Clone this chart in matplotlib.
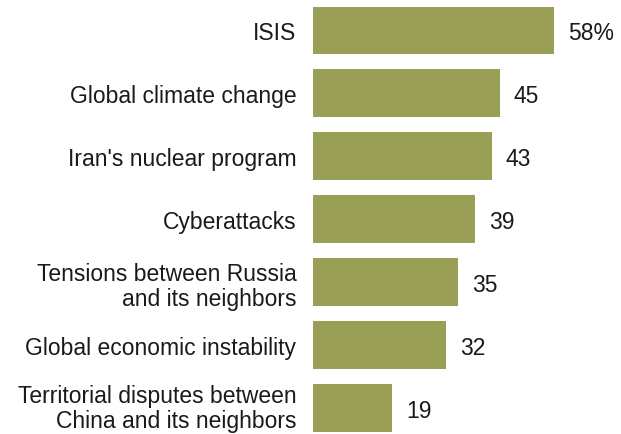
import matplotlib.pyplot as plt
import matplotlib.transforms as mtransforms

categories = [
    "ISIS",
    "Global climate change",
    "Iran's nuclear program",
    "Cyberattacks",
    "Tensions between Russia\nand its neighbors",
    "Global economic instability",
    "Territorial disputes between\nChina and its neighbors",
]
values = [58, 45, 43, 39, 35, 32, 19]
value_labels = ["58%", "45", "43", "39", "35", "32", "19"]

BAR_COLOR = "#999f54"
plt.rcParams["font.family"] = ["Liberation Sans", "DejaVu Sans"]

fig = plt.figure(figsize=(6.21, 4.35), dpi=100)
ax = fig.add_axes([313 / 621, -5.6 / 435, 299 / 621, 440.6 / 435])

ypos = list(range(len(categories)))
ax.barh(ypos, values, height=0.76, color=BAR_COLOR)

for y, v, lab in zip(ypos, values, value_labels):
    ax.annotate(lab, xy=(v, y), xytext=(10, -1.5), textcoords="offset points",
                ha="left", va="center", fontsize=16.5, color="#1a1a1a")

ax.set_xlim(0, 72)
ax.set_ylim(6.5, -0.5)
ax.set_yticks(ypos)
ax.set_yticklabels(categories, fontsize=16.5, color="#1a1a1a", ha="right",
                   linespacing=1.12)
ax.tick_params(axis="y", length=0, pad=12)
ax.set_xticks([])
for s in ax.spines.values():
    s.set_visible(False)

# lift the bottom label a few pixels so its descenders stay inside the figure
last = ax.get_yticklabels()[-1]
last.set_transform(last.get_transform() +
                   mtransforms.ScaledTranslation(0, 4 / 100, fig.dpi_scale_trans))

fig.savefig("out.png", dpi=100)
